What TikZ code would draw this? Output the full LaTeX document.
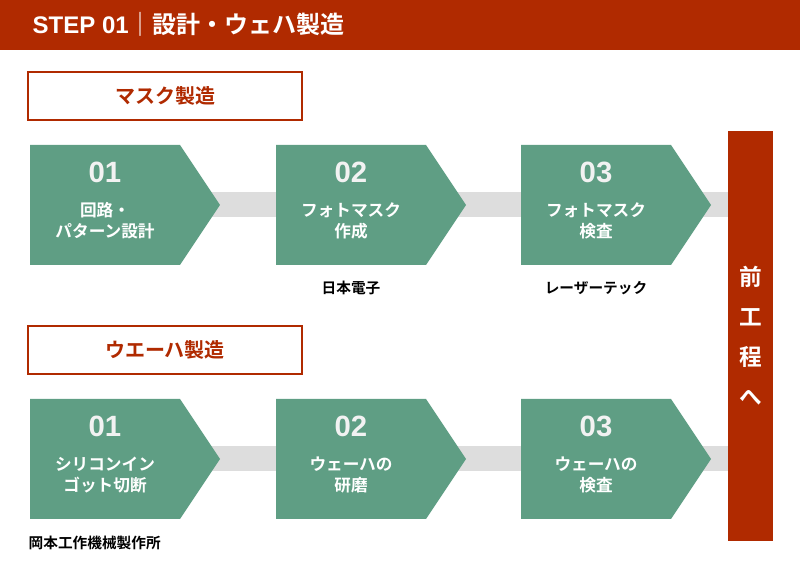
\documentclass[tikz,border=0pt]{standalone}
\usepackage{fontspec}
\setmainfont{Noto Sans CJK JP}[BoldFont={Noto Sans CJK JP Bold}]
\newfontfamily\latinbold{Liberation Sans}[BoldFont={Liberation Sans Bold}]
\definecolor{brick}{HTML}{B02A00}
\definecolor{sgreen}{HTML}{5F9E84}
\definecolor{barg}{HTML}{DDDDDD}
\tikzset{
 sect/.style={draw=brick,line width=1.5pt,fill=white,text=brick,font=\bfseries\fontsize{15}{18}\selectfont},
 num/.style={text=white!90!gray,font=\latinbold\bfseries\fontsize{22}{24}\selectfont},
 lbl/.style={text=white,align=center,font=\bfseries\fontsize{12.5}{16}\selectfont},
 capt/.style={font=\bfseries\fontsize{11}{13}\selectfont},
}
\newcommand{\stepshape}[3]{% x, ytop, name
 \fill[sgreen] (#1,#2) -- ++(150,0) -- ++(40,60) -- ++(-40,60) -- ++(-150,0) -- cycle;
 \coordinate (#3) at (#1+75,#2);
}
\begin{document}
\begin{tikzpicture}[x=0.75pt,y=-0.75pt]
\useasboundingbox (0,0) rectangle (800,580);
\fill[brick] (0,0) rectangle (800,50);
\node[anchor=west,text=white,font=\bfseries\fontsize{18}{20}\selectfont] (title) at (28,24) {{\latinbold\bfseries STEP 01}｜設計・ウェハ製造};
\fill[brick] (728,131) rectangle (773,541);
\node[text=white,align=center,font=\bfseries\fontsize{17}{30}\selectfont] (pre) at (750.5,336) {前\\工\\程\\へ};
% section 1
\node[sect,minimum width=274*0.75pt,minimum height=48*0.75pt] (s1) at (165,96) {マスク製造};
\fill[barg] (210,192) rectangle (728,217);
\stepshape{30}{145}{a1}\stepshape{276}{145}{a2}\stepshape{521}{145}{a3}
\foreach \n/\x/\k/\t in {a1/105/1/{回路・\\パターン設計},a2/351/2/{フォトマスク\\作成},a3/596/3/{フォトマスク\\検査}}{
 \node[num] (\n n) at (\x,172) {0\k};
 \node[lbl] (\n t) at (\x,221) {\t};
}
\node[capt] (c2) at (351,288) {日本電子};
\node[capt] (c3) at (596,288) {レーザーテック};
% section 2
\node[sect,minimum width=274*0.75pt,minimum height=48*0.75pt] (s2) at (165,350) {ウエーハ製造};
\fill[barg] (210,446) rectangle (728,471);
\stepshape{30}{399}{b1}\stepshape{276}{399}{b2}\stepshape{521}{399}{b3}
\foreach \n/\x/\k/\t in {b1/105/1/{シリコンイン\\ゴット切断},b2/351/2/{ウェーハの\\研磨},b3/596/3/{ウェーハの\\検査}}{
 \node[num] (\n n) at (\x,426) {0\k};
 \node[lbl] (\n t) at (\x,475) {\t};
}
\node[capt,anchor=west] (c4) at (24,543) {岡本工作機械製作所};
\end{tikzpicture}
\end{document}
